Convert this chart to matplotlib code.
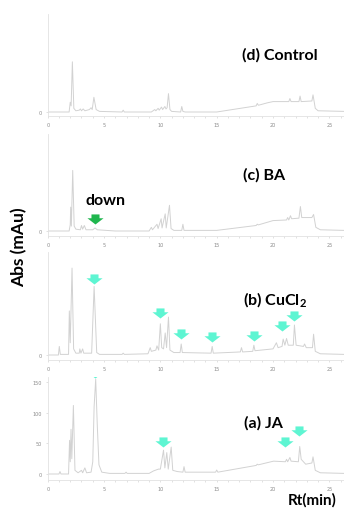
import matplotlib
matplotlib.use('Agg')
from matplotlib import pyplot as plt
from matplotlib.path import Path

# chromatogram traces, (retention time in min, absorbance in mAu)
control_trace = [(0, 0), (1.9, 0), (2.0, 16), (2.08, 10), (2.19, 82), (2.32, 6), (2.5, 2),
                 (2.8, 3), (2.9, 5), (3.0, 2), (3.15, 5), (3.3, 2), (3.7, 4), (3.85, 7),
                 (3.95, 4), (4.1, 24), (4.3, 4), (4.6, 1), (6.6, 0), (6.7, 3), (6.8, 0),
                 (9.2, 0), (9.5, 4), (9.6, 2), (9.8, 6), (9.9, 3), (10.1, 8), (10.2, 4),
                 (10.4, 9), (10.5, 5), (10.6, 7), (10.72, 30), (10.85, 4), (11.0, 1),
                 (11.8, 0), (11.9, 9), (12.0, 1), (12.2, 0), (15.0, 0), (18.5, 10),
                 (18.6, 14), (18.7, 11), (19.5, 15), (20.0, 17), (21.4, 17), (21.5, 22),
                 (21.6, 17), (22.3, 17), (22.4, 26), (22.5, 17), (23.45, 18), (23.55, 28),
                 (23.75, 6), (24.0, 2), (26.3, 1)]
ba_trace = [(0, 0), (1.9, 0), (2.0, 10), (2.04, 39), (2.1, 8), (2.22, 99), (2.35, 8),
            (2.5, 3), (2.9, 2), (3.0, 9), (3.1, 3), (3.25, 9), (3.4, 2), (4.0, 2),
            (4.2, 5), (4.4, 2), (6.0, 0), (9.0, 0), (9.2, 6), (9.3, 2), (9.7, 11),
            (9.8, 4), (10.07, 20), (10.15, 5), (10.43, 28), (10.52, 5), (10.81, 42),
            (10.95, 4), (11.2, 1), (11.9, 1), (12.0, 11), (12.1, 1), (15.0, 1),
            (18.5, 9), (18.6, 11), (18.7, 10), (20.0, 17), (21.2, 18), (21.3, 22),
            (21.4, 18), (21.55, 25), (21.65, 20), (22.3, 21), (22.43, 40), (22.55, 22),
            (23.45, 22), (23.6, 27), (23.8, 6), (24.2, 2), (26.3, 1)]
cucl2_trace = [(0, 0), (0.95, 0), (1.03, 14), (1.12, 1), (1.85, 1), (1.92, 72), (2.0, 20),
               (2.16, 142), (2.3, 10), (2.5, 3), (2.8, 3), (2.85, 10), (2.95, 3),
               (3.1, 10), (3.2, 3), (3.9, 3), (4.12, 112), (4.35, 4), (4.6, 1), (6.6, 1),
               (6.7, 3), (6.8, 1), (8.9, 2), (9.1, 12), (9.2, 6), (9.6, 8), (9.7, 15),
               (9.85, 8), (10.0, 51), (10.12, 12), (10.28, 10), (10.43, 36), (10.55, 12),
               (10.72, 62), (10.85, 8), (11.2, 4), (11.75, 4), (11.85, 18), (11.95, 4),
               (14.5, 3), (14.6, 14), (14.7, 3), (17.1, 5), (17.2, 12), (17.3, 5),
               (18.2, 6), (18.3, 16), (18.4, 7), (20.0, 10), (20.3, 20), (20.45, 12),
               (20.8, 14), (20.9, 26), (21.05, 16), (21.2, 27), (21.35, 16), (21.8, 16),
               (21.9, 49), (22.05, 16), (22.7, 14), (22.8, 18), (22.95, 12), (23.5, 12),
               (23.6, 34), (23.75, 6), (24.2, 2), (26.3, 1)]
ja_trace = [(0, 0), (1.0, 0), (1.09, 4), (1.18, 0), (1.85, 0), (1.94, 55), (2.0, 20),
            (2.07, 73), (2.14, 25), (2.28, 112), (2.42, 6), (2.7, 2), (3.0, 6), (3.1, 2),
            (3.2, 6), (3.3, 10), (3.45, 2), (3.85, 3), (4.0, 20), (4.12, 110),
            (4.26, 155), (4.4, 80), (4.55, 15), (4.8, 3), (5.5, 1), (6.85, 1),
            (6.96, 3), (7.05, 1), (9.0, 1), (9.39, 5), (9.83, 8), (10.0, 8), (10.28, 39),
            (10.4, 10), (10.57, 35), (10.7, 8), (10.96, 44), (11.1, 6), (11.5, 4),
            (12.0, 3), (12.1, 12), (12.2, 3), (14.9, 3), (15.0, 6.5), (15.1, 3),
            (18.5, 14), (18.6, 16), (18.7, 15), (20.05, 21), (21.1, 20), (21.2, 24),
            (21.3, 20), (21.5, 27), (21.6, 21), (22.25, 20), (22.37, 45), (22.5, 24),
            (22.9, 16), (23.45, 18), (23.55, 28), (23.75, 6), (24.2, 2), (26.3, 1)]

# arrow tips (rt, abs)
ba_down_arrows = [(4.2, 11)]
cucl2_arrows = [(4.1, 116), (10.0, 60), (11.85, 26), (14.6, 21), (18.3, 23), (20.8, 39), (21.9, 56)]
ja_arrows = [(4.2, 157), (10.25, 44), (21.1, 44), (22.3, 62)]

xticks = [0, 5, 10, 15, 20, 25]
ja_yticks = [0, 50, 100, 150]

W, H = 344, 510
plt.rcParams['mathtext.fontset'] = 'custom'
plt.rcParams['mathtext.rm'] = 'Lato:bold'
plt.rcParams['mathtext.bf'] = 'Lato:bold'
fig = plt.figure(figsize=(W / 100, H / 100), dpi=100)

# block arrow marker, tip at the origin
arrow = Path([(0, 0), (0.8, 0.62), (0.4, 0.62), (0.4, 1.0), (-0.4, 1.0),
              (-0.4, 0.62), (-0.8, 0.62), (0, 0)],
             [Path.MOVETO] + [Path.LINETO] * 6 + [Path.CLOSEPOLY])


def panel(top, zero, bottom, trace, yticks, arrows=None, acolor='#5ef5d2'):
    # pixel positions -> axes
    scale = 0.612  # px per mAu
    ax = fig.add_axes([47.7 / W, 1 - bottom / H, 1 - 47.7 / W, (bottom - top) / H])
    rt = [p[0] for p in trace]
    ab = [p[1] for p in trace]
    ax.plot(rt, ab, color='#d2d2d2', lw=0.7)
    if arrows:
        ax.plot([a[0] for a in arrows], [a[1] for a in arrows], ls='none',
                marker=arrow, markersize=14.5, color=acolor, markeredgewidth=0)
    ax.set_xlim(0, 26.3)
    ax.set_ylim(-(bottom - zero) / scale, (zero - top) / scale)
    ax.set_xticks(xticks)
    ax.set_xticks(range(0, 27), minor=True)
    ax.set_yticks(yticks)
    ax.tick_params(labelsize=3.5, labelcolor='#8a8a8a', color='#d5d5d5', length=1.5, width=0.5, pad=3)
    ax.tick_params(axis='x', which='minor', length=1.2, color='#d5d5d5', width=0.5)
    ax.tick_params(axis='y', length=1.5)
    for s in ['top', 'right']:
        ax.spines[s].set_visible(False)
    for s in ['left', 'bottom']:
        ax.spines[s].set_color('#e2e2e2')
        ax.spines[s].set_linewidth(0.6)
    ax.patch.set_alpha(0)
    return ax


panel(15, 113, 117, control_trace, [0])
panel(135, 232, 237, ba_trace, [0], ba_down_arrows, acolor='#1fb64e')
panel(253, 356, 361, cucl2_trace, [0], cucl2_arrows)
panel(378, 475, 481, ja_trace, ja_yticks, ja_arrows)

lab = dict(fontsize=11.5, fontweight='bold', family='Lato', va='center', ha='left')
fig.text(242 / W, 1 - 55 / H, '(d) Control', **lab)
fig.text(243 / W, 1 - 175 / H, '(c) BA', **lab)
fig.text(85 / W, 1 - 201 / H, 'down', **lab)
fig.text(243 / W, 1 - 300 / H, '(b) CuCl$_\\mathbf{2}$', **lab)
fig.text(244 / W, 1 - 423 / H, '(a) JA', **lab)
fig.text(288 / W, 1 - 500 / H, 'Rt(min)', fontsize=11, fontweight='bold', family='Lato',
         va='center', ha='left')
fig.text(19 / W, 1 - 247 / H, 'Abs (mAu)', fontsize=12.5, fontweight='bold', family='Lato',
         rotation=90, va='center', ha='center')

fig.savefig('out.png', dpi=100)
